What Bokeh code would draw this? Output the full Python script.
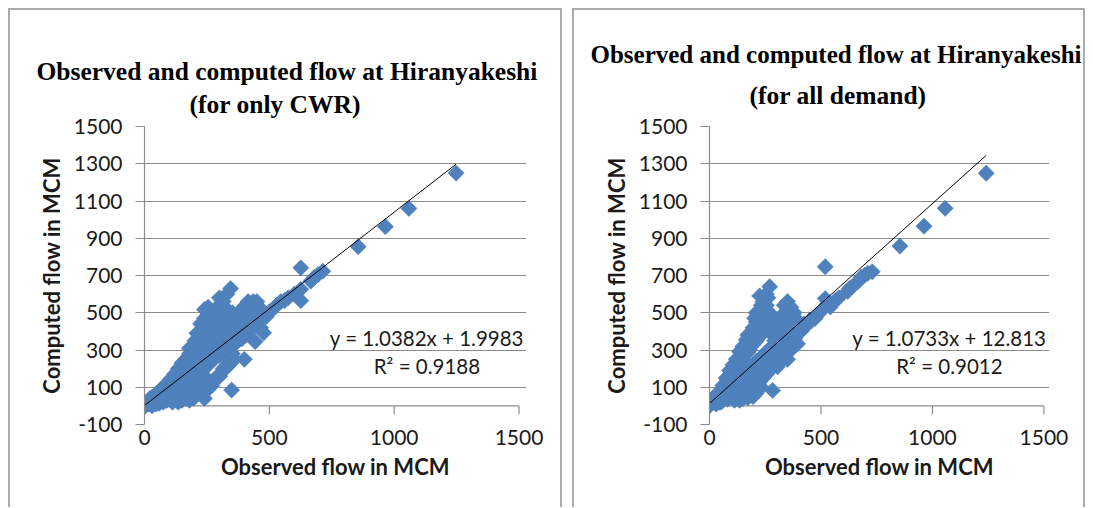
from bokeh.plotting import figure
from bokeh.models import Range1d, Label, Title, FixedTicker
from bokeh.layouts import row
from bokeh.embed import file_html
from bokeh.resources import INLINE

# ---------------- data ----------------
x_ticks = [0, 500, 1000, 1500]
y_ticks = [-100, 100, 300, 500, 700, 900, 1100, 1300, 1500]
x_tick_labels = ["0", "500", "1000", "1500"]
y_tick_labels = ["-100", "100", "300", "500", "700", "900", "1100", "1300", "1500"]

# Left chart: only CWR
obs_cwr = [1248, 1059, 965, 856, 626, 714, 695, 680, 666, 626, 626, 600, 575, 561, 546, 530, 517, 500, 488, 470, 455, 477,
           415, 430, 445, 450, 460, 440, 475,
           443, 400, 349, 320, 296, 335, 301, 268,
           0, 0, 15, 15, 30, 30, 30, 45, 45, 45, 60, 60, 60, 75, 75, 75, 75, 90, 90, 90, 90,
           105, 105, 105, 105, 120, 120, 120, 120, 135, 135, 135, 135, 135,
           150, 150, 150, 150, 150, 165, 165, 165, 165, 165,
           180, 180, 180, 180, 180, 180, 195, 195, 195, 195, 195, 195,
           210, 210, 210, 210, 210, 210, 210, 225, 225, 225, 225, 225, 225, 225,
           240, 240, 240, 240, 240, 240, 240, 240, 255, 255, 255, 255, 255, 255, 255, 255,
           270, 270, 270, 270, 270, 270, 285, 285, 285, 285, 285, 285,
           300, 300, 300, 300, 300, 300, 300, 315, 315, 315, 315, 315, 315,
           330, 330, 330, 330, 330, 330, 345, 345, 345, 345, 345, 345,
           360, 360, 360, 360, 360, 375, 375, 375, 390, 390, 390, 390,
           405, 405, 405, 420, 420, 420, 435, 435, 435, 450, 450, 465, 465, 465,
           22, 22, 52, 52, 52, 82, 82, 82, 112, 112, 112, 112, 142, 142, 142, 142,
           172, 172, 172, 172, 172, 202, 202, 202, 202, 202, 202,
           232, 232, 232, 232, 232, 232, 232, 262, 262, 262, 262,
           292, 292, 292, 292, 322, 322, 322, 322, 352, 352, 352, 352,
           382, 382, 382, 412, 412, 412, 442, 442]
comp_cwr = [1250, 1060, 962, 855, 741, 723, 705, 690, 670, 626, 565, 600, 580, 565, 560, 540, 524, 505, 480, 470, 455, 392,
            560, 545, 530, 560, 520, 500, 510,
            345, 250, 85, 198, 162, 215, 160, 124,
            0, -5, 10, 25, 20, 45, 0, 30, 60, 10, 40, 80, 15, 55, 100, 20, 80, 70, 120, 30, 100,
            85, 145, 40, 115, 100, 170, 50, 130, 110, 200, 60, 150, 20,
            130, 230, 80, 180, 30, 150, 250, 100, 200, 40,
            170, 280, 120, 220, 30, 310, 190, 320, 130, 250, 40, 100,
            210, 350, 160, 280, 60, 120, 390, 230, 380, 180, 300, 70, 130, 440,
            250, 410, 200, 320, 40, 150, 470, 517, 270, 430, 220, 350, 90, 140, 490, 530,
            280, 450, 240, 380, 110, 500, 300, 470, 260, 400, 150, 520,
            310, 480, 270, 420, 160, 540, 580, 330, 490, 280, 440, 200, 560,
            345, 500, 300, 450, 210, 600, 360, 480, 320, 420, 230, 630,
            375, 460, 330, 410, 250, 390, 450, 350, 400, 440, 360, 520,
            420, 380, 540, 440, 400, 550, 450, 530, 560, 470, 520, 480, 420, 500,
            15, 40, 35, 70, 15, 60, 100, 30, 90, 140, 50, 20, 120, 180, 70, 30,
            150, 220, 90, 40, 260, 180, 260, 110, 50, 300, 350,
            210, 300, 140, 60, 350, 450, 100, 250, 340, 400, 470,
            280, 380, 450, 520, 320, 400, 480, 530, 350, 430, 280, 500,
            380, 420, 480, 410, 470, 520, 440, 480]

# Right chart: all demand
obs_all = [1241, 1057, 962, 854, 730, 710, 696, 680, 665, 640, 627, 620, 519, 519, 565, 580, 542, 530, 500, 490, 473, 460, 450,
           0, 0, 15, 15, 30, 30, 30, 45, 45, 45, 60, 60, 60, 75, 75, 75,
           90, 90, 90, 90, 105, 105, 105, 105, 120, 120, 120, 120, 120,
           135, 135, 135, 135, 135, 150, 150, 150, 150, 150, 165, 165, 165, 165, 165,
           180, 180, 180, 180, 180, 195, 195, 195, 195, 195,
           210, 210, 210, 210, 210, 210, 225, 225, 225, 225, 225, 225,
           240, 240, 240, 240, 240, 240, 255, 255, 255, 255, 255, 255,
           270, 270, 270, 270, 270, 270, 283, 283, 283, 283, 290, 290, 290, 290,
           305, 305, 305, 305, 305, 320, 320, 320, 320, 335, 335, 335, 335,
           350, 350, 350, 350, 365, 365, 365, 365, 380, 380, 380, 395, 395, 395,
           410, 410, 425, 425,
           22, 22, 52, 52, 52, 82, 82, 82, 112, 112, 112, 112, 142, 142, 142, 142, 142,
           172, 172, 172, 172, 172, 202, 202, 202, 202, 202, 202,
           232, 232, 232, 232, 232, 232, 262, 262, 262, 262, 262,
           292, 292, 292, 292, 322, 322, 322, 322, 352, 352, 352, 352, 382, 382, 382, 412]
comp_all = [1249, 1061, 965, 858, 720, 712, 702, 690, 666, 640, 630, 615, 747, 576, 567, 580, 531, 545, 510, 495, 469, 460, 460,
            10, 0, 20, 40, 30, 60, 10, 50, 70, 20, 60, 110, 30, 80, 150, 40,
            100, 190, 50, 140, 110, 220, 60, 160, 130, 250, 40, 190, 80,
            150, 290, 30, 220, 100, 170, 320, 40, 250, 110, 190, 355, 50, 280, 120,
            200, 390, 60, 300, 140, 220, 420, 50, 330, 160,
            240, 450, 70, 350, 170, 500, 250, 480, 130, 380, 190, 590,
            270, 520, 150, 400, 210, 560, 290, 540, 170, 420, 230, 600,
            300, 500, 190, 430, 250, 640, 83, 320, 460, 380, 330, 470, 220, 400,
            340, 450, 210, 380, 290, 350, 480, 240, 420, 360, 540, 260, 430,
            370, 560, 250, 450, 390, 530, 300, 470, 400, 500, 330, 420, 333, 460,
            430, 400, 440, 420,
            20, 45, 40, 85, 20, 70, 140, 35, 100, 190, 60, 30, 130, 240, 80, 40, 300,
            160, 290, 100, 45, 380, 190, 340, 120, 60, 420, 470,
            220, 380, 160, 100, 460, 540, 250, 420, 190, 500, 580,
            290, 430, 250, 350, 320, 400, 280, 460, 350, 420, 300, 520, 380, 450, 360, 410]

# Trendline parameters shown on the charts
slope_cwr, intercept_cwr, r2_cwr = 1.0382, 1.9983, 0.9188
slope_all, intercept_all, r2_all = 1.0733, 12.813, 0.9012

titles_cwr = ["Observed and computed flow at Hiranyakeshi", "(for only CWR)"]
titles_all = ["Observed and computed flow at Hiranyakeshi", "(for all demand)"]
x_label = "Observed flow in MCM"
y_label = "Computed flow in MCM"

# ---------------- styling ----------------
GRAY = "#8c8c8c"
BLUE = "#4F81BD"
TXT = "#1a1a1a"
TICK_LEN = 45  # data units (~8px) for the x tick marks below the zero line
BORDER = "2px solid #ababab"


def make_panel(xs, ys, slope, intercept, r2, titles, g):
    p = figure(width=g["w"], height=499,
               x_range=Range1d(0, g["xmax"]), y_range=Range1d(-100, 1500),
               output_backend="svg", toolbar_location=None,
               min_border_left=g["l"], min_border_right=g["r"],
               min_border_top=g["t"], min_border_bottom=g["b"],
               background_fill_color="white", border_fill_color="white",
               margin=g["margin"],
               styles={"border-top": BORDER, "border-left": BORDER, "border-right": BORDER})
    p.title.visible = False
    p.outline_line_color = None
    p.xgrid.grid_line_color = None
    p.ygrid.ticker = FixedTicker(ticks=y_ticks)
    p.ygrid.grid_line_color = GRAY
    p.ygrid.grid_line_width = 1.2
    p.ygrid.bounds = (x_ticks[0], x_ticks[-1])

    # y axis
    p.yaxis.ticker = FixedTicker(ticks=y_ticks)
    p.yaxis.major_label_overrides = {t: l for t, l in zip(y_ticks, y_tick_labels)}
    p.yaxis.axis_line_color = GRAY
    p.yaxis.axis_line_width = 1.2
    p.yaxis.major_tick_line_color = GRAY
    p.yaxis.major_tick_line_width = 1.2
    p.yaxis.major_tick_out = 9
    p.yaxis.major_tick_in = 0
    p.yaxis.minor_tick_line_color = None
    p.yaxis.major_label_text_font = "Lato"
    p.yaxis.major_label_text_font_size = "21px"
    p.yaxis.major_label_text_color = TXT
    p.yaxis.major_label_standoff = 13
    p.yaxis.axis_label = y_label
    p.yaxis.axis_label_text_font = "Lato"
    p.yaxis.axis_label_text_font_style = "bold"
    p.yaxis.axis_label_text_font_size = "22px"
    p.yaxis.axis_label_text_color = TXT
    p.yaxis.axis_label_standoff = 6

    # x axis (labels only; the axis line is drawn at y = 0)
    p.xaxis.ticker = FixedTicker(ticks=x_ticks)
    p.xaxis.major_label_overrides = {t: l for t, l in zip(x_ticks, x_tick_labels)}
    p.xaxis.axis_line_color = None
    p.xaxis.major_tick_line_color = None
    p.xaxis.minor_tick_line_color = None
    p.xaxis.major_tick_out = 0
    p.xaxis.major_tick_in = 0
    p.xaxis.major_label_text_font = "Lato"
    p.xaxis.major_label_text_font_size = "21px"
    p.xaxis.major_label_text_color = TXT
    p.xaxis.major_label_standoff = 5
    p.xaxis.axis_label = x_label
    p.xaxis.axis_label_text_font = "Lato"
    p.xaxis.axis_label_text_font_style = "bold"
    p.xaxis.axis_label_text_font_size = "22px"
    p.xaxis.axis_label_text_color = TXT
    p.xaxis.axis_label_standoff = 5

    # horizontal axis line at zero with downward tick marks
    p.line([x_ticks[0], x_ticks[-1]], [0, 0], line_color=GRAY, line_width=1.2, level="underlay")
    p.segment(x0=x_ticks, y0=[0] * len(x_ticks), x1=x_ticks, y1=[-TICK_LEN] * len(x_ticks),
              line_color=GRAY, line_width=1.2, level="underlay")

    p.scatter(xs, ys, marker="square", size=11.5, angle=0.785398,
              fill_color=BLUE, line_color=BLUE, line_width=0.5)

    x0, x1 = min(xs), max(xs)
    p.line([x0, x1], [slope * x0 + intercept, slope * x1 + intercept],
           line_color="black", line_width=1)

    # two-line title (second line nearest the frame)
    p.add_layout(Title(text=titles[1], align="left", offset=g["off2"], standoff=g["st2"],
                       vertical_align="top",
                       text_font="Liberation Serif", text_font_style="bold",
                       text_font_size="25.5px", text_color="black"), "above")
    p.add_layout(Title(text=titles[0], align="left", offset=g["off1"], standoff=g["st1"],
                       vertical_align="top",
                       text_font="Liberation Serif", text_font_style="bold",
                       text_font_size=g["fs1"], text_color="black"), "above")

    # regression equation
    sign = "+" if intercept >= 0 else "-"
    p.add_layout(Label(x=g["ex"], y=g["ey1"], text=f"y = {slope}x {sign} {abs(intercept)}",
                       text_align="center", text_baseline="middle", text_font="Lato",
                       text_font_size="20.5px", text_color=TXT))
    p.add_layout(Label(x=g["ex"], y=g["ey2"], text=f"R\u00b2 = {r2}",
                       text_align="center", text_baseline="middle", text_font="Lato",
                       text_font_size="20.5px", text_color=TXT))
    return p


left = make_panel(obs_cwr, comp_cwr, slope_cwr, intercept_cwr, r2_cwr, titles_cwr,
                  dict(w=554, l=134, r=38, t=114, b=85, xmax=1530, margin=(8, 0, 0, 8),
                       off1=-108, off2=45, st2=10.5, st1=-6, fs1="25.5px",
                       ex=1131, ey1=362, ey2=215))
right = make_panel(obs_all, comp_all, slope_all, intercept_all, r2_all, titles_all,
                   dict(w=513, l=135, r=38, t=116, b=83, xmax=1525, margin=(8, 0, 0, 0),
                        off1=-119, off2=40, st2=28.5, st1=-7.5, fs1="25px",
                        ex=1076, ey1=366, ey2=216))

layout = row(left, right, spacing=10)
open("out.html", "w").write(file_html(layout, INLINE))
